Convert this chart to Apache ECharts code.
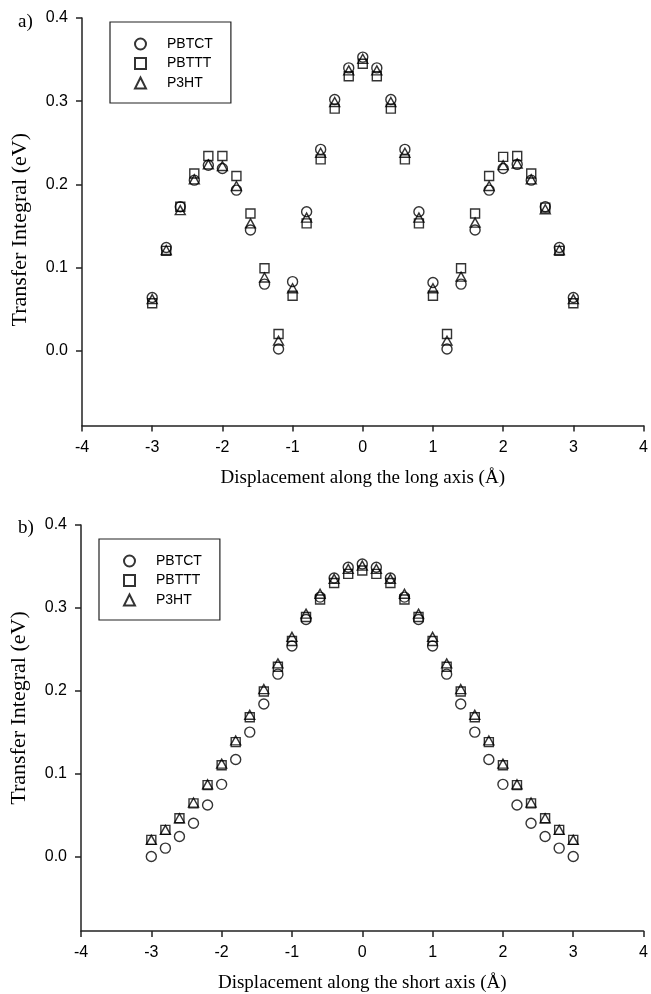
<!DOCTYPE html>
<html>
<head>
<meta charset="utf-8">
<title>Transfer Integral</title>
<script src="https://cdn.jsdelivr.net/npm/echarts@6/dist/echarts.min.js"></script>
<style>
  html, body { margin: 0; padding: 0; background: #fff; }
  #chart { width: 651px; height: 994px; }
</style>
</head>
<body>
<div id="chart"></div>
<script>
// displacement (A), same for both panels
var displacement = [-3, -2.8, -2.6, -2.4, -2.2, -2, -1.8, -1.6, -1.4, -1.2, -1, -0.8, -0.6, -0.4, -0.2, 0,
    0.2, 0.4, 0.6, 0.8, 1, 1.2, 1.4, 1.6, 1.8, 2, 2.2, 2.4, 2.6, 2.8, 3];

// a) long axis
var pbtctLong = [0.064, 0.124, 0.173, 0.205, 0.223, 0.219, 0.193, 0.145, 0.080, 0.002, 0.083, 0.167, 0.242, 0.302, 0.340, 0.353,
    0.340, 0.302, 0.242, 0.167, 0.082, 0.002, 0.080, 0.145, 0.193, 0.219, 0.224, 0.205, 0.173, 0.124, 0.064];
var pbtttLong = [0.057, 0.120, 0.173, 0.213, 0.234, 0.234, 0.210, 0.165, 0.099, 0.020, 0.066, 0.153, 0.230, 0.291, 0.330, 0.345,
    0.330, 0.291, 0.230, 0.153, 0.066, 0.020, 0.099, 0.165, 0.210, 0.233, 0.234, 0.213, 0.172, 0.120, 0.057];
var p3htLong = [0.062, 0.121, 0.169, 0.206, 0.224, 0.222, 0.198, 0.153, 0.088, 0.012, 0.075, 0.160, 0.238, 0.299, 0.337, 0.351,
    0.337, 0.299, 0.238, 0.160, 0.075, 0.012, 0.089, 0.154, 0.198, 0.223, 0.225, 0.206, 0.170, 0.121, 0.062];

// b) short axis
var pbtctShort = [0.000, 0.010, 0.024, 0.040, 0.062, 0.087, 0.117, 0.150, 0.184, 0.220, 0.254, 0.286, 0.313, 0.336, 0.349, 0.353,
    0.349, 0.336, 0.313, 0.286, 0.254, 0.220, 0.184, 0.150, 0.117, 0.087, 0.062, 0.040, 0.024, 0.010, 0.000];
var pbtttShort = [0.020, 0.032, 0.046, 0.064, 0.086, 0.110, 0.138, 0.168, 0.199, 0.229, 0.260, 0.289, 0.310, 0.330, 0.341, 0.345,
    0.341, 0.330, 0.310, 0.289, 0.260, 0.229, 0.199, 0.168, 0.138, 0.110, 0.086, 0.064, 0.046, 0.032, 0.020];
var p3htShort = [0.020, 0.032, 0.046, 0.065, 0.087, 0.112, 0.140, 0.171, 0.202, 0.233, 0.265, 0.293, 0.317, 0.335, 0.347, 0.351,
    0.347, 0.335, 0.317, 0.293, 0.265, 0.233, 0.202, 0.171, 0.140, 0.112, 0.087, 0.065, 0.046, 0.032, 0.020];

var yTicks = [0, 0.1, 0.2, 0.3, 0.4];
var seriesNames = ['PBTCT', 'PBTTT', 'P3HT'];

(function () {
    var myChart = echarts.init(document.getElementById('chart'));

    var sans = 'Liberation Sans, Arial, sans-serif';
    var serif = 'Liberation Serif, Times New Roman, serif';

    function pairs(ys) {
        return displacement.map(function (x, i) { return [x, ys[i]]; });
    }

    function xAxis(idx, name) {
        return {
            gridIndex: idx,
            type: 'value',
            min: -4,
            max: 4,
            interval: 1,
            name: name,
            nameLocation: 'middle',
            nameGap: 43,
            nameTextStyle: { fontFamily: serif, fontSize: 19, color: '#000' },
            axisLine: { onZero: false, lineStyle: { color: '#222', width: 1.5 } },
            axisTick: { length: 6, lineStyle: { color: '#222', width: 1.5 } },
            axisLabel: { margin: 14, fontFamily: sans, fontSize: 16, color: '#000' },
            splitLine: { show: false }
        };
    }

    function yAxis(idx, pad) {
        return {
            gridIndex: idx,
            type: 'value',
            min: -0.09,
            max: 0.4,
            name: 'Transfer Integral (eV)',
            nameLocation: 'middle',
            nameGap: 51,
            nameTextStyle: { fontFamily: serif, fontSize: 22, color: '#000', padding: pad },
            axisLine: { show: true, onZero: false, lineStyle: { color: '#222', width: 1.5 } },
            axisTick: { show: true, length: 6, customValues: yTicks, lineStyle: { color: '#222', width: 1.5 } },
            axisLabel: {
                customValues: yTicks,
                margin: 14,
                fontFamily: sans,
                fontSize: 16,
                color: '#000',
                formatter: function (v) { return v.toFixed(1); }
            },
            splitLine: { show: false }
        };
    }

    // hollow black markers
    var marks = [
        { symbol: 'circle', size: 10 },
        { symbol: 'rect', size: 9 },
        { symbol: 'triangle', size: [10, 9] }
    ];
    var longData = [pbtctLong, pbtttLong, p3htLong];
    var shortData = [pbtctShort, pbtttShort, p3htShort];

    var series = [];
    [longData, shortData].forEach(function (set, g) {
        set.forEach(function (ys, k) {
            series.push({
                name: seriesNames[k],
                type: 'scatter',
                xAxisIndex: g,
                yAxisIndex: g,
                symbol: marks[k].symbol,
                symbolSize: marks[k].size,
                itemStyle: { color: 'rgba(0,0,0,0)', borderColor: '#000', borderWidth: 1.4 },
                data: pairs(ys)
            });
        });
    });

    function legend(left, top) {
        return {
            data: seriesNames,
            orient: 'vertical',
            left: left,
            top: top,
            padding: [15, 18, 13, 24],
            itemWidth: 11,
            itemHeight: 11,
            itemGap: 5.5,
            borderColor: '#222',
            borderWidth: 1.2,
            textStyle: { fontFamily: sans, fontSize: 14, color: '#000', padding: [0, 0, 0, 16] }
        };
    }

    var option = {
        backgroundColor: '#fff',
        animation: false,
        title: [
            { text: 'a)', left: 13, top: 8, textStyle: { fontFamily: serif, fontSize: 19, fontWeight: 'normal', color: '#000' } },
            { text: 'b)', left: 13, top: 514, textStyle: { fontFamily: serif, fontSize: 19, fontWeight: 'normal', color: '#000' } }
        ],
        legend: [legend(110, 22), legend(99, 539)],
        grid: [
            { left: 82, right: 3, top: 18, height: 407.5 },
            { left: 79, right: 6, top: 525, height: 407.3 }
        ],
        xAxis: [
            xAxis(0, 'Displacement along the long axis (\u00c5)'),
            xAxis(1, 'Displacement along the short axis (\u00c5)')
        ],
        yAxis: [yAxis(0, [0, 16, 0, 0]), yAxis(1, [0, 0, 0, 40])],
        series: series
    };

    myChart.setOption(option);
    window.addEventListener('resize', function () {
        myChart.resize();
    });
})();
</script>
</body>
</html>
